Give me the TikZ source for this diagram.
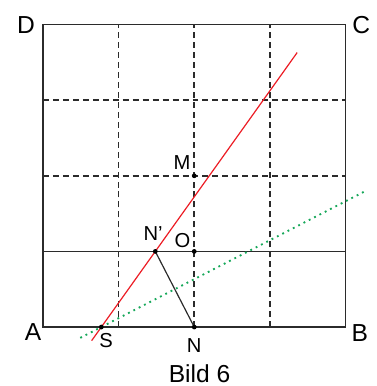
\documentclass[tikz,border=0pt]{standalone}
\usepackage{fontspec}
\setmainfont{Liberation Sans}
\usetikzlibrary{calc}
\definecolor{linegray}{HTML}{2B2B2B}
\definecolor{foldred}{HTML}{EC1C24}
\definecolor{foldgreen}{HTML}{17A85A}
\tikzstyle{edge} = [linegray, line width=1.3pt]
\tikzstyle{gridline} = [linegray, line width=1.2pt, dash pattern=on 4.5pt off 3pt]
\tikzstyle{foldline} = [foldred, line width=0.9pt]
\tikzstyle{bisector} = [foldgreen, line width=1.4pt, dash pattern=on 1.4pt off 3.1pt]
\tikzstyle{corner} = [inner sep=0pt, font=\fontsize{18.5}{18.5}\selectfont]
\tikzstyle{pointlabel} = [inner sep=0pt, font=\fontsize{15.2}{15.2}\selectfont]
\tikzstyle{dot} = [fill=black]

\begin{document}
\begin{tikzpicture}[x=2cm, y=2cm]
    \useasboundingbox (-0.569,-0.780) rectangle (4.405,4.325);
    \coordinate (A) at (0,0);
    \coordinate (B) at (4,0);
    \coordinate (C) at (4,4);
    \coordinate (D) at (0,4);
    \coordinate (M) at (2,2);
    \coordinate (O) at (2,1);
    \coordinate (N) at (2,0);
    \coordinate (Np) at (1.485,1);
    \coordinate (Q) at ($(N)!0.5!(Np)$);
    \coordinate (S) at ($(Q)!1.942!90:(Np)$);

    % grid
    \foreach \i in {1,2,3} {
        \draw [gridline] (\i,0) -- (\i,4);
    }
    \foreach \j in {2,3} {
        \draw [gridline] (0,\j) -- (4,\j);
    }
    \draw [edge] (A) rectangle (C);
    \draw [edge] (0,1) -- (4,1);

    % fold lines
    \draw [foldline] ($(S)!-0.18!(Np)$) -- ($(S)!3.63!(Np)$);
    \draw [bisector] ($(Q)!2.5!90:(Np)$) -- ($(Q)!-5.05!90:(Np)$);
    \draw [linegray, line width=0.9pt] (N) -- (Np);

    \foreach \p in {M,O,N,Np,S} {
        \fill [dot] (\p) circle (1.8pt);
    }

    \node (lA) [corner] at (-0.13,-0.07) {A};
    \node (lB) [corner] at (4.19,-0.08) {B};
    \node (lC) [corner] at (4.21,3.99) {C};
    \node (lD) [corner] at (-0.225,3.99) {D};
    \node (lM) [pointlabel] at (1.84,2.18) {M};
    \node (lO) [pointlabel] at (1.845,1.14) {O};
    \node (lNp) [pointlabel] at (1.455,1.23) {N’};
    \node (lS) [pointlabel] at (0.833,-0.18) {S};
    \node (lN) [pointlabel] at (2.0,-0.24) {N};
    \node (cap) [corner] at (2.07,-0.62) {Bild 6};
\end{tikzpicture}
\end{document}
